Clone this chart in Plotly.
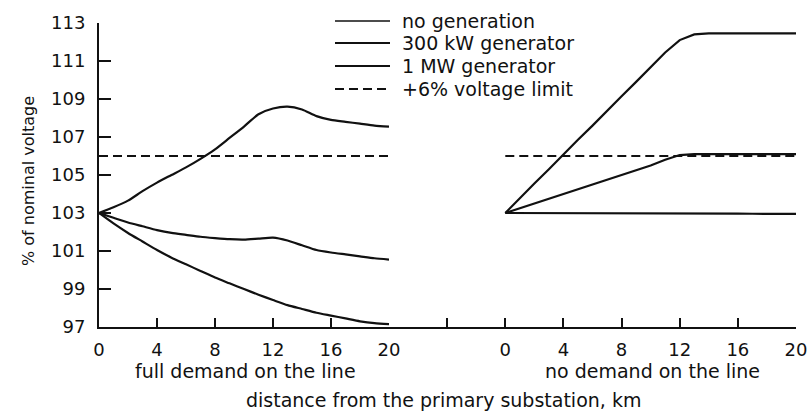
import plotly.graph_objects as go

# Distance along the feeder, km
km = list(range(0, 21))

# Full demand on the line: % of nominal voltage
full_no_gen = [103.0, 102.45, 101.95, 101.5, 101.05, 100.65, 100.3, 99.95, 99.6, 99.3, 99.0,
               98.7, 98.42, 98.15, 97.95, 97.75, 97.6, 97.45, 97.3, 97.2, 97.15]
full_300kw = [103.0, 102.75, 102.5, 102.3, 102.1, 101.95, 101.85, 101.75, 101.68, 101.62, 101.6,
              101.65, 101.7, 101.55, 101.3, 101.05, 100.92, 100.82, 100.72, 100.62, 100.55]
full_1mw = [103.0, 103.3, 103.65, 104.15, 104.6, 105.0, 105.4, 105.85, 106.35, 106.95, 107.55,
            108.2, 108.5, 108.6, 108.45, 108.1, 107.9, 107.8, 107.7, 107.6, 107.55]

# No demand on the line: % of nominal voltage
none_no_gen = [103.0, 103.0, 103.0, 103.0, 103.0, 103.0, 103.0, 103.0, 103.0, 103.0, 103.0,
               103.0, 103.0, 103.0, 103.0, 102.98, 102.97, 102.96, 102.95, 102.95, 102.95]
none_300kw = [103.0, 103.25, 103.5, 103.75, 104.0, 104.25, 104.5, 104.75, 105.0, 105.25, 105.5,
              105.8, 106.05, 106.1, 106.1, 106.1, 106.1, 106.1, 106.1, 106.1, 106.1]
none_1mw = [103.0, 103.8, 104.55, 105.3, 106.1, 106.85, 107.6, 108.4, 109.15, 109.9, 110.7,
            111.45, 112.1, 112.4, 112.45, 112.45, 112.45, 112.45, 112.45, 112.45, 112.45]

voltage_limit = 106.0
limit_km = [0, 20]

y_ticks = [97, 99, 101, 103, 105, 107, 109, 111, 113]
x_ticks_left = [0, 4, 8, 12, 16, 20]
x_ticks_right = [-4, 0, 4, 8, 12, 16, 20]
x_ticktext_right = ["", "0", "4", "8", "12", "16", "20"]

legend_labels = ["no generation", "300 kW generator", "1 MW generator", "+6% voltage limit"]

INK = "#111111"
FONT = "DejaVu Sans"

fig = go.Figure()

for series in (full_no_gen, full_300kw, full_1mw):
    fig.add_trace(go.Scatter(x=km, y=series, mode="lines", xaxis="x", yaxis="y",
                             line=dict(color=INK, width=2.2, shape="spline", smoothing=0.6),
                             showlegend=False, hoverinfo="skip"))
for series in (none_no_gen, none_300kw, none_1mw):
    fig.add_trace(go.Scatter(x=km, y=series, mode="lines", xaxis="x2", yaxis="y",
                             line=dict(color=INK, width=2.2),
                             showlegend=False, hoverinfo="skip"))
for ax in ("x", "x2"):
    fig.add_trace(go.Scatter(x=limit_km, y=[voltage_limit, voltage_limit], mode="lines",
                             xaxis=ax, yaxis="y",
                             line=dict(color=INK, width=2, dash="9px,5px"),
                             showlegend=False, hoverinfo="skip"))

left_frac = 290 / 697

axis_common = dict(showline=True, linecolor=INK, linewidth=2, ticks="inside", ticklen=9,
                   tickwidth=1.5, tickcolor=INK, showgrid=False, zeroline=False,
                   automargin=False,
                   tickfont=dict(family=FONT, size=18, color=INK), ticklabelstandoff=5)

fig.update_layout(
    width=810, height=412,
    margin=dict(l=99, r=14, t=23, b=85),
    paper_bgcolor="white", plot_bgcolor="white",
    xaxis=dict(domain=[0, left_frac], range=[0, 20], tickvals=x_ticks_left, anchor="y",
               **axis_common),
    xaxis2=dict(domain=[left_frac, 1], range=[-8, 20], tickvals=x_ticks_right,
                ticktext=x_ticktext_right, anchor="y", **axis_common),
    yaxis=dict(range=[97, 113], tickvals=y_ticks, showline=True, linecolor=INK, linewidth=2,
               ticks="inside", ticklen=12, tickwidth=1.5, tickcolor=INK, showgrid=False,
               zeroline=False, automargin=False,
               tickfont=dict(family=FONT, size=18, color=INK), ticklabelstandoff=8),
    showlegend=False,
)

def py(ypix):
    return (327 - ypix) / 304

def px(xpix):
    return (xpix - 99) / 697

annotations = [
    dict(text="full demand on the line", x=px(245), y=py(371)),
    dict(text="no demand on the line", x=px(652), y=py(371)),
    dict(text="distance from the primary substation, km", x=px(443), y=py(400)),
]
for a in annotations:
    a.update(xref="paper", yref="paper", xanchor="center", yanchor="middle", showarrow=False,
             font=dict(family=FONT, size=19, color=INK))
annotations.append(dict(text="% of nominal voltage", x=px(28), y=py(181), xref="paper",
                        yref="paper", xanchor="center", yanchor="middle", textangle=-90,
                        showarrow=False, font=dict(family=FONT, size=16, color=INK)))

# Legend drawn as line samples with labels
legend_rows = [21, 43, 66, 89]
legend_widths = [1.3, 2.2, 2.0, 2.0]
legend_dash = ["solid", "solid", "solid", "9px,5px"]
shapes = []
for label, row, w, d in zip(legend_labels, legend_rows, legend_widths, legend_dash):
    shapes.append(dict(type="line", xref="paper", yref="paper", x0=px(335), x1=px(390),
                       y0=py(row), y1=py(row), line=dict(color=INK, width=w, dash=d)))
    annotations.append(dict(text=label, x=px(400), y=py(row), xref="paper", yref="paper",
                            xanchor="left", yanchor="middle", showarrow=False,
                            font=dict(family=FONT, size=19, color=INK)))

fig.update_layout(annotations=annotations, shapes=shapes)

fig.write_html("out.html")
